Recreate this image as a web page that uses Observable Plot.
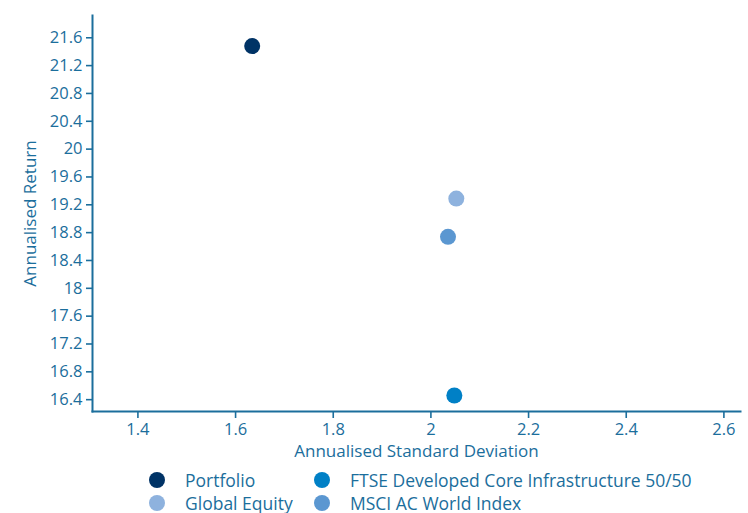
<!DOCTYPE html>
<html>
<head>
<meta charset="utf-8">
<script src="https://cdn.jsdelivr.net/npm/d3@7"></script>
<script src="https://cdn.jsdelivr.net/npm/@observablehq/plot@0.6"></script>
<style>
  html, body { margin: 0; padding: 0; background: #fff; }
  body { width: 748px; height: 513px; overflow: hidden; font-family: "Open Sans", Lato, sans-serif; }
  #legend { position: relative; height: 51px; color: #1b6e9c; font-size: 17.5px; }
  .item { position: absolute; display: flex; align-items: center; white-space: nowrap; height: 24px; line-height: 24px; }
  .sw { width: 16px; height: 16px; border-radius: 50%; margin-right: 20px; flex: none; }
</style>
</head>
<body>
<div id="chart"></div>
<div id="legend"></div>
<script>
const names = ["Portfolio", "FTSE Developed Core Infrastructure 50/50", "Global Equity", "MSCI AC World Index"];
const stdDev = [1.634, 2.048, 2.052, 2.035];
const returns = [21.48, 16.46, 19.29, 18.74];
const colors = ["#003366", "#0080c6", "#8eb2de", "#5b97d1"];
const xTicks = [1.4, 1.6, 1.8, 2, 2.2, 2.4, 2.6];
const yTicks = [16.4, 16.8, 17.2, 17.6, 18, 18.4, 18.8, 19.2, 19.6, 20, 20.4, 20.8, 21.2, 21.6];
const xDomain = [1.307, 2.634];
const yDomain = [16.23, 21.92];

const data = names.map((n, i) => ({name: n, x: stdDev[i], y: returns[i]}));
const axisColor = "#1b6e9c";

const plot = Plot.plot({
  width: 748,
  height: 462,
  marginTop: 15,
  marginBottom: 51,
  marginLeft: 92,
  marginRight: 8,
  style: {fontFamily: '"Open Sans", Lato, sans-serif', fontSize: "16.5px", color: axisColor, background: "#fff", overflow: "visible"},
  x: {domain: xDomain, ticks: xTicks, tickFormat: d => String(d), label: null},
  y: {domain: yDomain, ticks: yTicks, tickFormat: d => String(d), label: null},
  color: {domain: names, range: colors},
  marks: [
    Plot.frame({anchor: "left", stroke: axisColor, strokeWidth: 2}),
    Plot.frame({anchor: "bottom", stroke: axisColor, strokeWidth: 2}),
    Plot.axisX({ticks: xTicks, tickFormat: d => String(d), tickSize: 7, tickPadding: 5, stroke: axisColor, strokeWidth: 1.6, color: axisColor, fontSize: 16.5, label: null}),
    Plot.axisY({ticks: yTicks, tickFormat: d => String(d), tickSize: 6, tickPadding: 4, stroke: axisColor, strokeWidth: 1.6, color: axisColor, fontSize: 16.5, label: null}),
    Plot.text(["Annualised Standard Deviation"], {frameAnchor: "bottom", lineAnchor: "middle", dy: 40, fill: axisColor, fontSize: 17}),
    Plot.text(["Annualised Return"], {frameAnchor: "left", textAnchor: "middle", lineAnchor: "middle", dx: -62, rotate: -90, fill: axisColor, fontSize: 17}),
    Plot.dot(data, {x: "x", y: "y", fill: "name", r: 8})
  ]
});
document.getElementById("chart").appendChild(plot);

const legend = document.getElementById("legend");
const pos = [[149, 18], [314, 18], [149, 41], [314, 41]];
const order = [0, 1, 2, 3];
order.forEach((i, k) => {
  const d = document.createElement("div");
  d.className = "item";
  d.style.left = pos[k][0] + "px";
  d.style.top = (pos[k][1] - 12) + "px";
  d.innerHTML = `<span class="sw" style="background:${colors[i]}"></span><span>${names[i]}</span>`;
  legend.appendChild(d);
});
</script>
</body>
</html>
